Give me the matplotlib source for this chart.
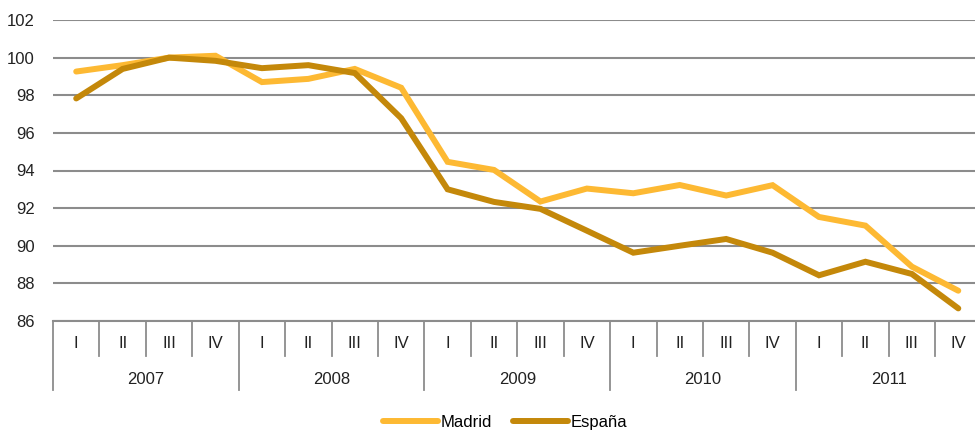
import matplotlib
matplotlib.use("Agg")
import matplotlib.pyplot as plt
import matplotlib.transforms as mtransforms

plt.rcParams['font.family'] = ['Liberation Sans Narrow', 'Liberation Sans', 'DejaVu Sans']

# datos
years = ['2007', '2008', '2009', '2010', '2011']
quarters = ['I', 'II', 'III', 'IV']
madrid = [99.26, 99.6, 100.0, 100.1, 98.7, 98.87, 99.4, 98.4,
          94.46, 94.03, 92.35, 93.04, 92.79, 93.23, 92.67, 93.22,
          91.53, 91.07, 88.89, 87.61]
espana = [97.83, 99.4, 100.0, 99.83, 99.44, 99.6, 99.18, 96.78,
          93.0, 92.33, 91.96, 90.8, 89.63, 90.0, 90.36, 89.63,
          88.43, 89.15, 88.5, 86.67]

c_madrid = '#FDB933'
c_espana = '#C4880A'
grid_c = '#8C8C8C'

n = len(years) * len(quarters)
x = [i + 0.5 for i in range(n)]

fig = plt.figure(figsize=(9.75, 4.3), dpi=100)
ax = fig.add_axes([53 / 975, 1 - 321 / 430, 928.5 / 975, 301 / 430])

ax.plot(x, madrid, color=c_madrid, lw=4.3, solid_capstyle='round', solid_joinstyle='miter', label='Madrid', zorder=3)
ax.plot(x, espana, color=c_espana, lw=4.3, solid_capstyle='round', solid_joinstyle='miter', label='España', zorder=3)

ax.set_xlim(0, n)
ax.set_ylim(86, 102)
ax.set_yticks(range(86, 103, 2))
ax.yaxis.grid(True, color=grid_c, lw=1.5)
ax.set_axisbelow(True)
for s in ['top', 'right', 'left']:
    ax.spines[s].set_visible(False)
ax.spines['bottom'].set_color(grid_c)
ax.spines['bottom'].set_linewidth(1.5)
ax.tick_params(axis='y', length=0, pad=13, labelsize=12, labelcolor='#222222')
ax.set_xticks([])

# eje de categorías en dos niveles
trans = mtransforms.blended_transform_factory(ax.transData, ax.transAxes)
px = 1 / 301  # un píxel en coordenadas de ejes
for i in range(n + 1):
    low = -69 * px if i % 4 == 0 else -35 * px
    ax.plot([i, i], [0, low], color=grid_c, lw=1.3, transform=trans, clip_on=False)
for i in range(n):
    ax.text(i + 0.5, -22 * px, quarters[i % 4], transform=trans, ha='center', va='center',
            fontsize=12, color='#222222')
for j, yr in enumerate(years):
    ax.text(j * 4 + 2, -58 * px, yr, transform=trans, ha='center', va='center',
            fontsize=12, color='#222222')

fig.legend(loc='lower center', bbox_to_anchor=(0.518, -0.035), ncol=2, frameon=False,
           fontsize=12, handlelength=3.3, handletextpad=0.15, columnspacing=1.3)

fig.savefig('out.png', dpi=100)
